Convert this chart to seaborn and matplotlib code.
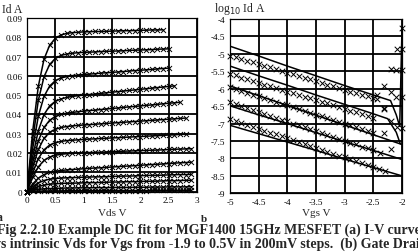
"""
Recreate a two-panel MESFET DC fit figure (I-V curves and gate-drain
leakage) with its caption, using seaborn line and scatter plots.
"""

import matplotlib.pyplot as plt
import pandas as pd
import seaborn as sns
from matplotlib.ticker import FuncFormatter, MultipleLocator

# ---- panel (a): drain current vs intrinsic Vds ----
VDS = [0.0, 0.1, 0.2, 0.3, 0.4, 0.5, 0.6, 0.7, 0.8, 0.9,
       1.0, 1.1, 1.2, 1.3, 1.4, 1.5, 1.6, 1.7, 1.8, 1.9,
       2.0, 2.1, 2.2, 2.3, 2.4, 2.5, 2.6, 2.7, 2.8, 2.9]

VGS_STEPS = [0.5, 0.3, 0.1, -0.1, -0.3, -0.5, -0.7, -0.9, -1.1, -1.3, -1.5, -1.7, -1.9]

ID_P05 = [0, 0.0312, 0.0546, 0.0686, 0.0759, 0.0794, 0.0812, 0.0820, 0.0824, 0.0826,
          0.0828, 0.0829, 0.0830, 0.0830, 0.0831, 0.0832, 0.0833, 0.0834, 0.0834, 0.0835,
          0.0836, 0.0837, 0.0838, 0.0838, 0.0839]
ID_P03 = [0, 0.0270, 0.0473, 0.0595, 0.0659, 0.0690, 0.0706, 0.0713, 0.0717, 0.0720,
          0.0722, 0.0723, 0.0724, 0.0726, 0.0727, 0.0728, 0.0729, 0.0730, 0.0732, 0.0733,
          0.0734, 0.0735, 0.0736, 0.0738, 0.0739, 0.0740]
ID_P01 = [0, 0.0223, 0.0391, 0.0493, 0.0547, 0.0575, 0.0589, 0.0596, 0.0601, 0.0604,
          0.0607, 0.0609, 0.0611, 0.0614, 0.0616, 0.0618, 0.0620, 0.0622, 0.0625, 0.0627,
          0.0629, 0.0631, 0.0633, 0.0636, 0.0638, 0.0640]
ID_M01 = [0, 0.0180, 0.0316, 0.0399, 0.0444, 0.0468, 0.0480, 0.0488, 0.0493, 0.0497,
          0.0500, 0.0503, 0.0506, 0.0509, 0.0512, 0.0515, 0.0518, 0.0521, 0.0524, 0.0527,
          0.0530, 0.0533, 0.0536, 0.0539, 0.0542, 0.0545, 0.0548]
ID_M03 = [0, 0.0149, 0.0263, 0.0332, 0.0370, 0.0389, 0.0400, 0.0406, 0.0410, 0.0414,
          0.0417, 0.0420, 0.0422, 0.0425, 0.0428, 0.0431, 0.0433, 0.0436, 0.0439, 0.0441,
          0.0444, 0.0447, 0.0449, 0.0452, 0.0455, 0.0458, 0.0460, 0.0463]
ID_M05 = [0, 0.0124, 0.0218, 0.0276, 0.0307, 0.0323, 0.0332, 0.0337, 0.0340, 0.0343,
          0.0345, 0.0347, 0.0349, 0.0351, 0.0353, 0.0355, 0.0357, 0.0359, 0.0361, 0.0363,
          0.0365, 0.0367, 0.0369, 0.0371, 0.0373, 0.0375, 0.0377, 0.0379, 0.0381]
ID_M07 = [0, 0.0097, 0.0171, 0.0216, 0.0241, 0.0253, 0.0260, 0.0264, 0.0266, 0.0268,
          0.0270, 0.0272, 0.0273, 0.0275, 0.0276, 0.0278, 0.0279, 0.0281, 0.0282, 0.0284,
          0.0285, 0.0287, 0.0288, 0.0290, 0.0291, 0.0293, 0.0294, 0.0296, 0.0297]
ID_M09 = [0, 0.0073, 0.0128, 0.0161, 0.0179, 0.0188, 0.0193, 0.0196, 0.0198, 0.0200,
          0.0201, 0.0202, 0.0203, 0.0204, 0.0205, 0.0207, 0.0208, 0.0209, 0.0210, 0.0211,
          0.0212, 0.0213, 0.0214, 0.0215, 0.0216, 0.0218, 0.0219, 0.0220, 0.0221, 0.0222]
ID_M11 = [0, 0.0039, 0.0069, 0.0088, 0.0099, 0.0105, 0.0109, 0.0112, 0.0114, 0.0116,
          0.0118, 0.0120, 0.0122, 0.0123, 0.0125, 0.0127, 0.0129, 0.0131, 0.0132, 0.0134,
          0.0136, 0.0138, 0.0140, 0.0141, 0.0143, 0.0145, 0.0147, 0.0149, 0.0150, 0.0152]
ID_M13 = [0, 0.0025, 0.0045, 0.0057, 0.0064, 0.0067, 0.0070, 0.0071, 0.0072, 0.0073,
          0.0074, 0.0075, 0.0076, 0.0076, 0.0077, 0.0078, 0.0079, 0.0080, 0.0080, 0.0081,
          0.0082, 0.0083, 0.0084, 0.0084, 0.0085, 0.0086, 0.0087, 0.0088, 0.0088, 0.0089]
ID_M15 = [0, 0.0015, 0.0026, 0.0033, 0.0038, 0.0040, 0.0042, 0.0043, 0.0043, 0.0044,
          0.0045, 0.0046, 0.0046, 0.0047, 0.0048, 0.0049, 0.0049, 0.0050, 0.0051, 0.0051,
          0.0052, 0.0053, 0.0053, 0.0054, 0.0055, 0.0056, 0.0056, 0.0057, 0.0058, 0.0058]
ID_M17 = [0, 0.0006, 0.0011, 0.0014, 0.0015, 0.0016, 0.0017, 0.0018, 0.0018, 0.0019,
          0.0019, 0.0019, 0.0020, 0.0020, 0.0020, 0.0021, 0.0021, 0.0021, 0.0021, 0.0022,
          0.0022, 0.0022, 0.0023, 0.0023, 0.0023, 0.0024, 0.0024, 0.0024, 0.0024, 0.0025]
ID_M19 = [0, 0.0001, 0.0002, 0.0003, 0.0003, 0.0003, 0.0003, 0.0004, 0.0004, 0.0004,
          0.0004, 0.0004, 0.0004, 0.0004, 0.0005, 0.0005, 0.0005, 0.0005, 0.0005, 0.0005,
          0.0005, 0.0005, 0.0006, 0.0006, 0.0006, 0.0006, 0.0006, 0.0006, 0.0006, 0.0006]

ID_CURVES = [ID_P05, ID_P03, ID_P01, ID_M01, ID_M03, ID_M05, ID_M07,
             ID_M09, ID_M11, ID_M13, ID_M15, ID_M17, ID_M19]

# ---- panel (b): gate-drain leakage, log10 Id vs Vgs ----
VGS_MEAS = [-5.0, -4.9, -4.8, -4.7, -4.6, -4.5, -4.4, -4.3, -4.2, -4.1,
            -4.0, -3.9, -3.8, -3.7, -3.6, -3.5, -3.4, -3.3, -3.2, -3.1,
            -3.0, -2.9, -2.8, -2.7, -2.6, -2.5]

LOG_MEAS_1 = [-5.05, -5.10, -5.14, -5.20, -5.24, -5.30, -5.34, -5.39, -5.44, -5.49,
              -5.54, -5.59, -5.63, -5.69, -5.73, -5.79, -5.83, -5.88, -5.93, -5.98,
              -6.03, -6.08, -6.12, -6.18, -6.22, -6.27]
LOG_MEAS_2 = [-5.58, -5.62, -5.68, -5.73, -5.77, -5.83, -5.88, -5.92, -5.98, -6.03,
              -6.08, -6.12, -6.18, -6.23, -6.27, -6.33, -6.38, -6.42, -6.48, -6.53,
              -6.57, -6.63, -6.68, -6.72, -6.78, -6.83]
LOG_MEAS_3 = [-5.96, -6.01, -6.07, -6.12, -6.17, -6.22, -6.27, -6.33, -6.38, -6.43,
              -6.48, -6.53, -6.58, -6.64, -6.69, -6.74, -6.79, -6.84, -6.90, -6.95,
              -7.00, -7.05, -7.10, -7.16, -7.21, -7.26]
LOG_MEAS_4 = [-6.39, -6.45, -6.50, -6.56, -6.61, -6.67, -6.72, -6.78, -6.83, -6.89,
              -6.94, -7.00, -7.05, -7.11, -7.16, -7.22, -7.27, -7.33, -7.38, -7.44,
              -7.49, -7.55, -7.60, -7.66, -7.71, -7.77]
LOG_MEAS_5 = [-6.87, -6.93, -6.98, -7.04, -7.09, -7.15, -7.20, -7.26, -7.31, -7.37,
              -7.42, -7.48, -7.53, -7.59, -7.64, -7.70, -7.75, -7.81, -7.86, -7.92,
              -7.97, -8.03, -8.08, -8.14, -8.19, -8.25]

# scattered measured points close to Vgs = -2 V
TAIL_VGS_1 = [-2.44, -2.32, -2.19, -2.08, -2.0]
TAIL_LOG_1 = [-6.30, -5.91, -5.43, -4.85, -4.27]
TAIL_VGS_2 = [-2.44, -2.32, -2.19, -2.1, -2.0]
TAIL_LOG_2 = [-6.19, -6.58, -6.10, -5.47, -4.85]
TAIL_VGS_3 = [-2.32, -2.32, -2.19, -2.1, -2.0]
TAIL_LOG_3 = [-7.26, -6.54, -6.92, -6.24, -5.46]
TAIL_VGS_4 = [-2.38, -2.19, -2.08, -2.0]
TAIL_LOG_4 = [-7.83, -7.72, -7.11, -6.24]
TAIL_VGS_5 = [-2.4, -2.3, -2.0]
TAIL_LOG_5 = [-8.30, -8.36, -7.14]

FIT_VGS_1 = [-5.0, -4.5, -4.0, -3.5, -3.0, -2.5, -2.2, -2.1, -2.04, -2.0]
FIT_LOG_1 = [-4.78, -5.06, -5.35, -5.63, -5.91, -6.18, -6.34, -6.75, -7.08, -4.28]
FIT_VGS_2 = [-5.0, -4.5, -4.0, -3.5, -3.0, -2.5, -2.25, -2.1, -2.03]
FIT_LOG_2 = [-5.35, -5.63, -5.90, -6.18, -6.45, -6.72, -6.86, -7.25, -7.58]
FIT_VGS_3 = [-5.0, -4.5, -4.0, -3.5, -3.0, -2.5, -2.0]
FIT_LOG_3 = [-5.92, -6.20, -6.48, -6.76, -7.04, -7.32, -7.60]
FIT_LOG_4 = [-6.49, -6.75, -7.00, -7.26, -7.52, -7.77, -8.03]
FIT_LOG_5 = [-7.05, -7.29, -7.53, -7.77, -8.02, -8.26, -8.50]

CAPTION_1 = "Fig 2.2.10 Example DC fit for MGF1400 15GHz MESFET (a) I-V curves"
CAPTION_2 = "vs intrinsic Vds for Vgs from -1.9 to 0.5V in 200mV steps.  (b) Gate Drain"

FIG_W_PX = 418
FIG_H_PX = 253


def fx(px: float) -> float:
    return px / FIG_W_PX


def fy(px: float) -> float:
    return 1 - px / FIG_H_PX


def style_axes(ax) -> None:
    ax.grid(True, which="major", color="black", linewidth=1.3)
    ax.set_axisbelow(True)
    for spine in ax.spines.values():
        spine.set_linewidth(0.9)
        spine.set_color("black")
    ax.tick_params(which="major", direction="inout", length=4, width=0.8,
                   labelsize=6.6, pad=1.5, colors="black")
    ax.tick_params(which="minor", direction="inout", length=2.5, width=0.6)
    ax.set_xlabel("")
    ax.set_ylabel("")


def build_figure() -> None:
    sns.set_style("white")
    plt.rcParams["font.family"] = ["Liberation Serif", "DejaVu Serif"]
    plt.rcParams["axes.unicode_minus"] = False

    fig = plt.figure(figsize=(FIG_W_PX / 100, FIG_H_PX / 100), dpi=100)

    # (a) I-V curves
    ax_a = fig.add_axes([fx(27), fy(192.5), fx(170), (192.5 - 19) / FIG_H_PX])
    iv_rows = []
    for vgs, ids in zip(VGS_STEPS, ID_CURVES):
        for vds, cur in zip(VDS, ids):
            iv_rows.append({"Vgs": vgs, "Vds": vds, "Id": cur})
    iv_df = pd.DataFrame(iv_rows)
    sns.lineplot(data=iv_df, x="Vds", y="Id", units="Vgs", estimator=None,
                 color="black", linewidth=1.1, ax=ax_a, legend=False)
    sns.scatterplot(data=iv_df, x="Vds", y="Id", marker="x", color="black",
                    s=13, linewidth=0.7, ax=ax_a, legend=False, clip_on=False)
    ax_a.set_xlim(0, 3)
    ax_a.set_ylim(0, 0.09)
    ax_a.xaxis.set_major_locator(MultipleLocator(0.5))
    ax_a.xaxis.set_minor_locator(MultipleLocator(0.1))
    ax_a.yaxis.set_major_locator(MultipleLocator(0.01))
    ax_a.yaxis.set_minor_locator(MultipleLocator(0.002))
    ax_a.xaxis.set_major_formatter(FuncFormatter(lambda v, _: f"{v:g}"))
    ax_a.yaxis.set_major_formatter(
        FuncFormatter(lambda v, _: "0" if abs(v) < 1e-9 else f"{v:.2f}"))
    style_axes(ax_a)

    # (b) gate-drain leakage
    ax_b = fig.add_axes([fx(230), fy(194.3), fx(172), (194.3 - 20) / FIG_H_PX])
    meas = [
        (VGS_MEAS + TAIL_VGS_1, LOG_MEAS_1 + TAIL_LOG_1),
        (VGS_MEAS + TAIL_VGS_2, LOG_MEAS_2 + TAIL_LOG_2),
        (VGS_MEAS + TAIL_VGS_3, LOG_MEAS_3 + TAIL_LOG_3),
        (VGS_MEAS + TAIL_VGS_4, LOG_MEAS_4 + TAIL_LOG_4),
        (VGS_MEAS + TAIL_VGS_5, LOG_MEAS_5 + TAIL_LOG_5),
    ]
    fits = [
        (FIT_VGS_1, FIT_LOG_1),
        (FIT_VGS_2, FIT_LOG_2),
        (FIT_VGS_3, FIT_LOG_3),
        (FIT_VGS_3, FIT_LOG_4),
        (FIT_VGS_3, FIT_LOG_5),
    ]
    fit_rows = []
    for k, (xs, ys) in enumerate(fits):
        for x, y in zip(xs, ys):
            fit_rows.append({"curve": k, "Vgs": x, "logId": y})
    fit_df = pd.DataFrame(fit_rows)
    sns.lineplot(data=fit_df, x="Vgs", y="logId", units="curve", estimator=None,
                 sort=False, color="black", linewidth=1.1, ax=ax_b, legend=False)
    meas_rows = []
    for k, (xs, ys) in enumerate(meas):
        for x, y in zip(xs, ys):
            meas_rows.append({"curve": k, "Vgs": x, "logId": y})
    meas_df = pd.DataFrame(meas_rows)
    sns.scatterplot(data=meas_df, x="Vgs", y="logId", marker="x", color="black",
                    s=16, linewidth=0.7, ax=ax_b, legend=False, clip_on=False)
    ax_b.set_xlim(-5, -2)
    ax_b.set_ylim(-9, -4)
    ax_b.xaxis.set_major_locator(MultipleLocator(0.5))
    ax_b.xaxis.set_minor_locator(MultipleLocator(0.1))
    ax_b.yaxis.set_major_locator(MultipleLocator(0.5))
    ax_b.yaxis.set_minor_locator(MultipleLocator(0.1))
    fmt = FuncFormatter(lambda v, _: f"{v:g}")
    ax_b.xaxis.set_major_formatter(fmt)
    ax_b.yaxis.set_major_formatter(fmt)
    style_axes(ax_b)

    # axis titles and panel letters
    fig.text(fx(2), fy(13), "Id A", fontsize=8.5, va="baseline")
    fig.text(fx(214), fy(12), "log$_{10}$ Id A", fontsize=8.5, va="baseline")
    fig.text(fx(112), fy(216), "Vds V", fontsize=8, ha="center", va="baseline")
    fig.text(fx(316), fy(216), "Vgs V", fontsize=8, ha="center", va="baseline")
    fig.text(fx(-3), fy(221), "a", fontsize=8.5, fontweight="bold", va="baseline")
    fig.text(fx(201), fy(222), "b", fontsize=8, fontweight="bold", va="baseline")

    # caption
    fig.text(fx(-3), fy(234), CAPTION_1, fontsize=10.0, fontweight="bold",
             va="baseline")
    fig.text(fx(-6), fy(248), CAPTION_2, fontsize=10.0, fontweight="bold",
             va="baseline")

    fig.savefig("out.png", dpi=100)


if __name__ == "__main__":
    build_figure()
